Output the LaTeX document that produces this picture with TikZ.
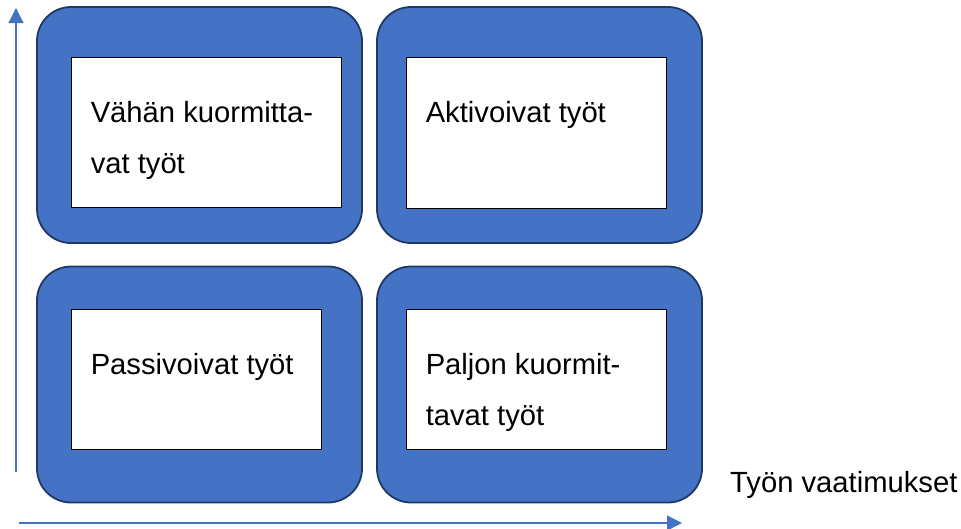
\documentclass[tikz,border=0pt]{standalone}
\usepackage{fontspec}
\setmainfont{Liberation Sans}
\usetikzlibrary{arrows.meta}
\definecolor{boxblue}{HTML}{4472C4}
\definecolor{edgeblue}{HTML}{203864}
\begin{document}
\begin{tikzpicture}[x=1pt, y=-1pt]
      \useasboundingbox (0, 0) rectangle (961, 528);
      \tikzstyle{outer}=[draw=edgeblue, fill=boxblue, line width=1.8pt, rounded corners=34pt,
        minimum width=325pt, minimum height=236pt, inner sep=0pt]
      \tikzstyle{inner}=[draw=black, fill=white, line width=0.9pt, inner sep=0pt]
      \tikzstyle{caption}=[anchor=base west, align=left, inner sep=0pt,
        font=\fontsize{29.2}{51}\selectfont]
      \tikzstyle{axis}=[draw=boxblue, line width=1.3pt, -{Triangle[width=15pt, length=15pt]}]

      \foreach \i/\x/\y in {0/199.5/125, 1/539.5/125, 2/199.5/384.5, 3/539.5/384.5}
      {
        \path (\x, \y) node[outer] (b\i) {};
      }

      \foreach \i/\x/\y/\w/\h in {0/206/132/270/150, 1/536/132.5/260/151,
                                  2/196/379/250/140, 3/536/379/260/140}
      {
        \path (\x, \y) node[inner, minimum width=\w pt, minimum height=\h pt] (f\i) {};
      }

      % two-line captions sit on their last baseline
      \path (f0.north west) ++(20, 117) node[caption] (t0) {Vähän kuormitta-\\vat työt};
      \path (f1.north west) ++(20, 66) node[caption] (t1) {Aktivoivat työt};
      \path (f2.north west) ++(20, 66) node[caption] (t2) {Passivoivat työt};
      \path (f3.north west) ++(20, 117) node[caption] (t3) {Paljon kuormit-\\tavat työt};

      \coordinate (y0) at (16, 472);
      \coordinate (y1) at (16, 8);
      \coordinate (x0) at (19, 523);
      \coordinate (x1) at (682, 523);
      \draw[axis] (y0) -- (y1);
      \draw[axis] (x0) -- (x1);

      \path (730, 492) node[caption] (xlab) {Työn vaatimukset};
    \end{tikzpicture}
\end{document}
